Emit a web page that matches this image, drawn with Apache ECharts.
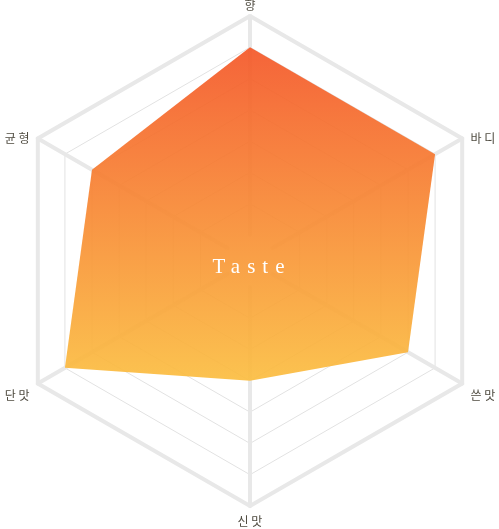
<!DOCTYPE html>
<html>
<head>
<meta charset="utf-8">
<script src="https://cdn.jsdelivr.net/npm/echarts@6/dist/echarts.min.js"></script>
<style>
html,body{margin:0;padding:0;background:#fff;}
#wrap{position:relative;width:499px;height:529px;}
#chart{width:499px;height:529px;}
#center{position:absolute;left:0;width:499px;top:254px;text-align:center;color:#fff;
  font-family:"Liberation Serif","DejaVu Serif",serif;font-size:21px;letter-spacing:7px;line-height:24px;
  text-indent:5px;pointer-events:none;}
</style>
</head>
<body>
<div id="wrap">
<div id="chart"></div>
<div id="center">Taste</div>
</div>
<script>
// indicators listed counter-clockwise from top (ECharts radar order)
const categories = ['향', '균 형', '단 맛', '신 맛', '쓴 맛', '바 디'];
const tasteValues = [6, 5, 6, 3, 5, 6];
const scaleMax = 7;

const chart = echarts.init(document.getElementById('chart'), null, {renderer: 'canvas'});
const indicators = categories.map(n => ({name: n, min: 0, max: scaleMax}));
const baseFont = {color: '#4f4b40', fontSize: 12, fontFamily: '"Noto Sans CJK KR", sans-serif'};
// label placement tweaks per position (index order matches categories)
const richKeys = ['t', 'ul', 'll', 'b', 'lr', 'ur'];
const rich = {
  t:  Object.assign({padding: [0, 0, 0, 0]}, baseFont),
  ul: Object.assign({padding: [4, 4, 0, 0]}, baseFont),
  ll: Object.assign({padding: [19, 4, 0, 0]}, baseFont),
  b:  Object.assign({padding: [4, 0, 0, 0]}, baseFont),
  lr: Object.assign({padding: [19, 0, 0, 4]}, baseFont),
  ur: Object.assign({padding: [4, 0, 0, 4]}, baseFont)
};

chart.setOption({
  animation: false,
  radar: [
    {
      center: [250, 261],
      radius: [26, 245],
      startAngle: 90,
      splitNumber: scaleMax,
      shape: 'polygon',
      indicator: indicators,
      nameGap: 5,
      axisName: {
        formatter: function (name) {
          const i = categories.indexOf(name);
          return '{' + richKeys[i] + '|' + name + '}';
        },
        rich: rich
      },
      splitArea: {show: false},
      splitLine: {lineStyle: {color: ['transparent', '#e2e2e2', '#e2e2e2', '#e2e2e2', '#e2e2e2', '#e2e2e2', '#e2e2e2', 'transparent'], width: 1}},
      axisLine: {lineStyle: {color: '#e8e8e8', width: 4}}
    },
    {
      center: [250, 261],
      radius: [26, 245],
      startAngle: 90,
      splitNumber: 1,
      shape: 'polygon',
      indicator: indicators.map(i => ({name: '', min: 0, max: scaleMax})),
      axisName: {show: false},
      splitArea: {show: false},
      splitLine: {lineStyle: {color: ['transparent', '#e8e8e8'], width: 4}},
      axisLine: {show: false}
    }
  ],
  series: [{
    type: 'radar',
    radarIndex: 0,
    symbol: 'none',
    lineStyle: {width: 0},
    areaStyle: {
      opacity: 0.93,
      color: new echarts.graphic.LinearGradient(0, 0, 0, 1, [
        {offset: 0, color: '#f4582a'},
        {offset: 1, color: '#fbbe42'}
      ])
    },
    data: [{value: tasteValues, name: 'Taste'}]
  }]
});
</script>
</body>
</html>
